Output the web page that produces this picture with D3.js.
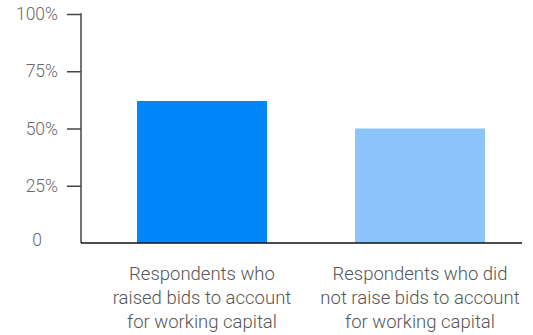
<!DOCTYPE html>
<html>
<head>
<meta charset="utf-8">
<script src="https://cdn.jsdelivr.net/npm/d3@7"></script>
<style>
  html, body { margin: 0; padding: 0; background: #fff; }
  svg { display: block; }
  svg text { font-family: Roboto, "Noto Sans", sans-serif; font-weight: 300; }
</style>
</head>
<body>
<svg id="chart" width="533" height="335"></svg>
<script>
// Share of respondents by bidding behaviour
const categories = [
  ["Respondents who", "raised bids to account", "for working capital"],
  ["Respondents who did", "not raise bids to account", "for working capital"]
];
const values = [0.62, 0.50];
const barColors = ["#0086f6", "#8ac4fb"];
const yTicks = [0, 0.25, 0.5, 0.75, 1];

const svg = d3.select("#chart");
const plotLeft = 81, plotRight = 522, plotTop = 14, plotBottom = 243;

const x = d3.scaleBand()
  .domain(d3.range(categories.length))
  .range([plotLeft, 541])
  .paddingInner(0.404)
  .paddingOuter(0.257);

const y = d3.scaleLinear().domain([0, 1]).range([plotBottom, plotTop]);

// bars
svg.append("g").selectAll("rect")
  .data(values)
  .join("rect")
  .attr("x", (d, i) => x(i))
  .attr("y", d => y(d))
  .attr("width", x.bandwidth())
  .attr("height", d => y(0) - y(d))
  .attr("fill", (d, i) => barColors[i]);

// y axis
const yAxis = d3.axisLeft(y)
  .tickValues(yTicks)
  .tickSize(14)
  .tickPadding(9)
  .tickFormat(d => d === 0 ? "0" : d3.format(".0%")(d));

const gy = svg.append("g")
  .attr("transform", `translate(${plotLeft},0)`)
  .call(yAxis)
  .attr("font-family", null)
  .attr("font-size", null);
gy.select(".domain").remove();
gy.selectAll(".tick line").attr("stroke", "#444").attr("stroke-width", 1.5);
gy.selectAll(".tick text")
  .attr("fill", "#6a6a6a")
  .style("font-size", "17.5px");
// the zero tick carries only its label, set in from the others
const zeroTick = gy.selectAll(".tick").filter(d => d === 0);
zeroTick.select("line").remove();
zeroTick.select("text").attr("x", -39).attr("dy", "0.15em");
gy.append("line")
  .attr("x1", 0).attr("x2", 0)
  .attr("y1", plotTop - 0.75).attr("y2", plotBottom)
  .attr("stroke", "#444").attr("stroke-width", 1.5);

// baseline
svg.append("line")
  .attr("x1", plotLeft).attr("x2", plotRight)
  .attr("y1", y(0)).attr("y2", y(0))
  .attr("stroke", "#111").attr("stroke-width", 1.6);

// category labels
const labels = svg.append("g").selectAll("text")
  .data(categories)
  .join("text")
  .attr("x", (d, i) => x(i) + x.bandwidth() / 2)
  .attr("y", 280)
  .attr("text-anchor", "middle")
  .attr("fill", "#555")
  .style("font-size", "18.5px");
labels.selectAll("tspan")
  .data(d => d)
  .join("tspan")
  .attr("x", function () { return d3.select(this.parentNode).attr("x"); })
  .attr("dy", (d, i) => i === 0 ? 0 : 24)
  .text(d => d);
</script>
</body>
</html>
